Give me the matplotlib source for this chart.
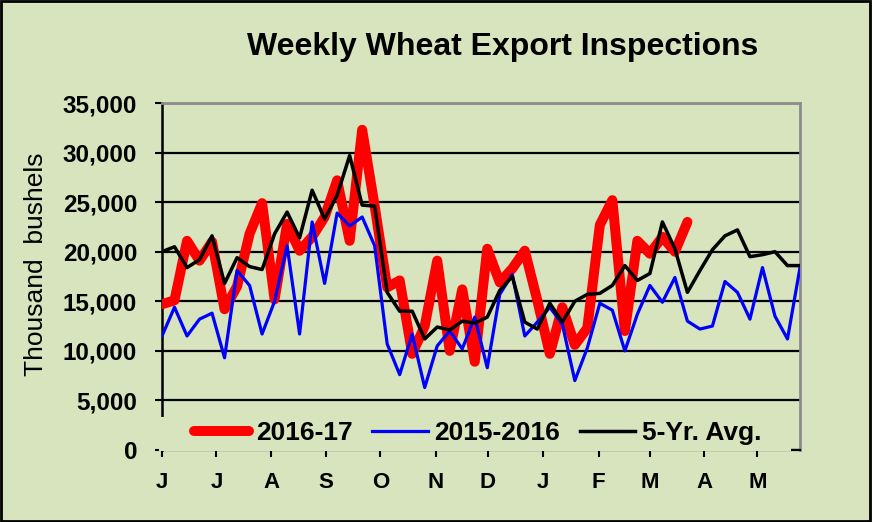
import matplotlib
matplotlib.use("Agg")
import matplotlib.pyplot as plt
from matplotlib.patches import Rectangle
from matplotlib.ticker import FuncFormatter
import numpy as np

plt.rcParams['font.family'] = ['Liberation Sans', 'DejaVu Sans']

# ---- data (thousand bushels, weekly) ----
season_2016_17 = [14700, 15100, 21100, 19100, 21000, 14200, 16500, 21800, 24900, 15200,
                  22800, 20100, 21500, 23500, 27200, 21100, 32300, 24600, 16400, 17100,
                  9700, 12500, 19100, 10000, 16200, 8900, 20300, 16900, 18300, 20100,
                  15100, 9700, 14400, 10600, 12300, 22700, 25200, 12000, 21100, 19800,
                  21500, 20000, 23000]
season_2015_16 = [11500, 14400, 11500, 13200, 13800, 9300, 18100, 16600, 11700, 15000,
                  20600, 11700, 23000, 16800, 23900, 22600, 23500, 20600, 10700, 7600,
                  11700, 6300, 10500, 12000, 10200, 13400, 8300, 15700, 17700, 11500,
                  12900, 14400, 12700, 7000, 10300, 14800, 14100, 10000, 13700, 16600,
                  14900, 17400, 13000, 12200, 12500, 17000, 15900, 13200, 18400, 13500,
                  11200, 18400]
five_yr_avg = [20000, 20500, 18400, 19200, 21600, 16800, 19400, 18500, 18200, 21800,
               24000, 21400, 26200, 23300, 25700, 29700, 24700, 24600, 15900, 14000,
               14000, 11200, 12400, 12100, 13000, 12800, 13400, 16100, 17500, 12900,
               12200, 14800, 12900, 15000, 15700, 15800, 16600, 18600, 17100, 17800,
               23000, 20300, 15900, 18100, 20200, 21600, 22200, 19500, 19700, 20000,
               18600, 18600]
month_labels = ['J', 'J', 'A', 'S', 'O', 'N', 'D', 'J', 'F', 'M', 'A', 'M']
month_weeks = [0.0, 4.35, 8.75, 13.1, 17.45, 21.9, 26.05, 30.45, 34.9, 39.0, 43.35, 47.6]
y_ticks = [0, 5000, 10000, 15000, 20000, 25000, 30000, 35000]

BG = '#D7E4BD'

fig = plt.figure(figsize=(8.72, 5.22), dpi=100, facecolor=BG)
ax = fig.add_axes([162/872, 1-450/522, 638/872, 347/522], facecolor=BG)

x_new = np.arange(len(season_2016_17))
x_all = np.arange(len(season_2015_16))

ax.plot(x_new, season_2016_17, color='#FF0000', lw=7.2, solid_capstyle='round',
        solid_joinstyle='round', label='2016-17', zorder=3)
ax.plot(x_all, season_2015_16, color='#0000FF', lw=2.3, label='2015-2016', zorder=3.2)
ax.plot(x_all, five_yr_avg, color='black', lw=2.5, label='5-Yr. Avg.', zorder=3.4)

ax.set_xlim(0, len(season_2015_16) - 1)
ax.set_ylim(0, 35000)
ax.set_yticks(y_ticks)
ax.yaxis.set_major_formatter(FuncFormatter(lambda v, p: f'{int(v):,}'))
ax.grid(axis='y', color='black', lw=1.6, zorder=1)
ax.set_axisbelow(True)

ax.set_xticks(month_weeks)
ax.set_xticklabels(month_labels, fontsize=16, fontweight='bold')
for t in ax.get_yticklabels():
    t.set_fontsize(17.5)
    t.set_fontweight('bold')
ax.tick_params(axis='y', direction='out', length=5, width=1.5, pad=13)
ax.tick_params(axis='x', direction='out', length=5, width=1.5, pad=11)

ax.spines['left'].set_color('black')
ax.spines['left'].set_linewidth(1.8)
ax.spines['bottom'].set_color('black')
ax.spines['bottom'].set_linewidth(1.6)
for s in ('top', 'right'):
    ax.spines[s].set_color('#8C8C8C')
    ax.spines[s].set_linewidth(2)

ax.set_ylabel('Thousand  bushels', fontsize=19)
ax.yaxis.set_label_coords(-0.178, 0.535)

# legend area covering the bottom of the plot
cover = Rectangle((-0.004, -0.004), 0.99, 0.1, transform=ax.transAxes,
                  facecolor=BG, edgecolor='none', zorder=4.5, clip_on=False)
ax.add_patch(cover)
leg = ax.legend(loc='center', bbox_to_anchor=(0.4945, 0.048), ncol=3, frameon=False,
                prop={'size': 19, 'weight': 'bold'}, handlelength=2.1,
                handletextpad=0.25, columnspacing=0.75, borderaxespad=0)
leg.set_zorder(5)

fig.text(0.576, 0.91, 'Weekly Wheat Export Inspections', ha='center', va='center',
         fontsize=23, fontweight='bold')

fig.patches.append(Rectangle((0.001, 0.002), 0.997, 0.996, transform=fig.transFigure,
                             fill=False, edgecolor='black', lw=2))

fig.savefig('out.png', dpi=100, facecolor=BG)
